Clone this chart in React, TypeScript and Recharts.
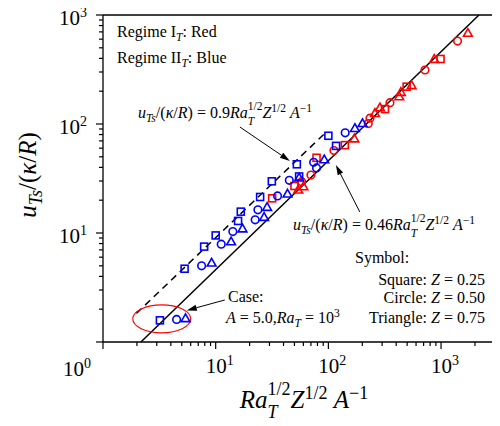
import React from 'react';
import {
  ScatterChart,
  Scatter,
  XAxis,
  YAxis,
  ReferenceLine,
  ReferenceDot,
} from 'recharts';

// Regime II_T (blue)
const blueSquares = [
  { x: 3.2, y: 1.58 }, { x: 5.3, y: 4.7 }, { x: 7.9, y: 7.5 }, { x: 10, y: 9.5 },
  { x: 15.8, y: 12.9 }, { x: 16.7, y: 15.7 }, { x: 24.8, y: 21.4 }, { x: 31.5, y: 29.8 },
  { x: 52.5, y: 42.7 }, { x: 55, y: 33 }, { x: 100, y: 78 }, { x: 117, y: 63 },
];
const blueCircles = [
  { x: 4.5, y: 1.61 }, { x: 7.5, y: 5.0 }, { x: 11.2, y: 7.9 }, { x: 14.2, y: 10.3 },
  { x: 22.4, y: 13.2 }, { x: 23.7, y: 16.3 }, { x: 35.4, y: 21.9 }, { x: 45, y: 30.4 },
  { x: 74, y: 44.5 }, { x: 78.5, y: 39.5 }, { x: 141, y: 83 },
];
const blueTriangles = [
  { x: 5.4, y: 1.64 }, { x: 9.2, y: 5.3 }, { x: 13.7, y: 8.3 }, { x: 17.3, y: 10.9 },
  { x: 26.9, y: 13.9 }, { x: 28.6, y: 17.2 }, { x: 43.4, y: 22.8 }, { x: 55, y: 32 },
  { x: 92, y: 47 }, { x: 172, y: 91 }, { x: 201, y: 101 },
];

// Regime I_T (red)
const redSquares = [
  { x: 31.7, y: 20.8 }, { x: 50, y: 27 }, { x: 78.5, y: 49 }, { x: 140, y: 64 },
  { x: 318, y: 137 }, { x: 495, y: 220 }, { x: 990, y: 395 },
];
const redCircles = [
  { x: 58, y: 29.6 }, { x: 70, y: 34 }, { x: 112, y: 57 }, { x: 226, y: 101 },
  { x: 234, y: 113 }, { x: 352, y: 157 }, { x: 720, y: 313 }, { x: 1400, y: 577 },
];
const redTriangles = [
  { x: 54, y: 24.8 }, { x: 60, y: 26.6 }, { x: 170, y: 73 }, { x: 259, y: 125 },
  { x: 287, y: 141 }, { x: 425, y: 178 }, { x: 440, y: 195 }, { x: 548, y: 225 },
  { x: 870, y: 392 }, { x: 1730, y: 680 },
];

// fit lines (end points)
const fitSolid = [{ x: 2.17, y: 1 }, { x: 2170, y: 1000 }];
const fitDashed = [{ x: 1.98, y: 1.83 }, { x: 96.4, y: 85 }];

// annotation arrows [from, to]
const arrowUpper = [{ x: 16.4, y: 93.8 }, { x: 45.5, y: 45.8 }];
const arrowLower = [{ x: 190, y: 15.6 }, { x: 116.6, y: 42.1 }];
const arrowCase = [{ x: 12.05, y: 2.43 }, { x: 5.54, y: 1.95 }];
const caseCenter = { x: 3.32, y: 1.63 };

const xTicks = [
  1, 2, 3, 4, 5, 6, 7, 8, 9, 10, 20, 30, 40, 50, 60, 70, 80, 90,
  100, 200, 300, 400, 500, 600, 700, 800, 900, 1000, 2000, 3000,
];
const yTicks = [
  1, 2, 3, 4, 5, 6, 7, 8, 9, 10, 20, 30, 40, 50, 60, 70, 80, 90,
  100, 200, 300, 400, 500, 600, 700, 800, 900, 1000,
];

const SERIF = '"Liberation Serif", "Times New Roman", serif';
const BLUE = '#0000ff';
const RED = '#ff0000';

const isDecade = (v: number) => Math.abs(Math.log10(v) - Math.round(Math.log10(v))) < 1e-9;

const Pow = ({ x, y, e, anchor }: any) => (
  <text x={x} y={y} textAnchor={anchor} fontFamily={SERIF} fontSize={21} fill="#000">
    10<tspan fontSize={14} dy={-8}>{e}</tspan>
  </text>
);

const XTick = (props: any) => {
  const { x, y, payload } = props;
  const v = payload.value;
  const major = isDecade(v);
  const e = Math.round(Math.log10(v));
  return (
    <g>
      <line x1={x} y1={y} x2={x} y2={y + (major ? 7 : 4)} stroke="#000" strokeWidth={1.2} />
      {major && e > 0 && <Pow x={x + 4} y={y + 31} e={e} anchor="middle" />}
      {major && e === 0 && <Pow x={x - 26} y={y + 34} e={e} anchor="middle" />}
    </g>
  );
};

const YTick = (props: any) => {
  const { x, y, payload } = props;
  const v = payload.value;
  const major = isDecade(v);
  const e = Math.round(Math.log10(v));
  return (
    <g>
      <line x1={x} y1={y} x2={x - (major ? 7 : 4)} y2={y} stroke="#000" strokeWidth={1.2} />
      {major && e > 0 && <Pow x={x - 16} y={y + 10} e={e} anchor="end" />}
    </g>
  );
};

const Square = (color: string) => (p: any) => (
  <rect x={p.cx - 3.5} y={p.cy - 3.5} width={7} height={7} fill="none" stroke={color} strokeWidth={1.6} />
);
const Circle = (color: string) => (p: any) => (
  <circle cx={p.cx} cy={p.cy} r={3.8} fill="none" stroke={color} strokeWidth={1.6} />
);
const Triangle = (color: string) => (p: any) => (
  <path
    d={`M${p.cx},${p.cy - 4.7} L${p.cx + 4.4},${p.cy + 3} L${p.cx - 4.4},${p.cy + 3} Z`}
    fill="none"
    stroke={color}
    strokeWidth={1.6}
  />
);

const Arrow = (p: any) => {
  const { x1, y1, x2, y2 } = p;
  const a = Math.atan2(y2 - y1, x2 - x1);
  const L = 10;
  const W = 3;
  const bx = x2 - L * Math.cos(a);
  const by = y2 - L * Math.sin(a);
  const s = Math.sin(a);
  const c = Math.cos(a);
  return (
    <g>
      <line x1={x1} y1={y1} x2={bx} y2={by} stroke="#000" strokeWidth={1} />
      <path d={`M${x2},${y2} L${bx - W * s},${by + W * c} L${bx + W * s},${by - W * c} Z`} fill="#000" />
    </g>
  );
};

const Ellipse = (p: any) => (
  <ellipse cx={p.cx} cy={p.cy} rx={29} ry={14} fill="none" stroke={RED} strokeWidth={1.1} />
);

const Sub = ({ children }: any) => (
  <span style={{ fontSize: '0.72em', position: 'relative', top: '0.32em' }}>{children}</span>
);
const Sup = ({ children }: any) => (
  <span style={{ fontSize: '0.72em', position: 'relative', top: '-0.5em' }}>{children}</span>
);
const SupSub = ({ sup, sub }: any) => (
  <span style={{ position: 'relative', fontSize: '0.72em' }}>
    <span style={{ position: 'relative', top: '-0.7em', fontStyle: 'normal' }}>{sup}</span>
    <span style={{ position: 'absolute', left: 0, top: '0.45em', fontStyle: 'italic' }}>{sub}</span>
  </span>
);

const Formula = ({ k }: { k: string }) => (
  <span>
    <i>u</i>
    <Sub><i>Ts</i></Sub>/(<i>κ</i>/<i>R</i>) = {k}
    <i>Ra</i>
    <SupSub sup="1/2" sub="T" />
    <i>Z</i>
    <Sup>1/2</Sup> <i>A</i>
    <Sup>−1</Sup>
  </span>
);

const txt = (left: number, top: number, extra: React.CSSProperties = {}): React.CSSProperties => ({
  position: 'absolute',
  left,
  top,
  fontFamily: SERIF,
  fontSize: 16,
  lineHeight: '16px',
  whiteSpace: 'nowrap',
  color: '#000',
  ...extra,
});

export default function App() {
  return (
    <div style={{ position: 'relative', width: 492, height: 418, marginTop: -8 }}>
      <ScatterChart width={492} height={418} margin={{ top: 15, right: 0, bottom: 0, left: 0 }}>
        <XAxis
          type="number"
          dataKey="x"
          scale="log"
          domain={[1, 3335]}
          allowDataOverflow
          ticks={xTicks}
          interval={0}
          tick={XTick}
          tickLine={false}
          tickSize={0}
          tickMargin={0}
          axisLine={{ stroke: '#000', strokeWidth: 1.3 }}
          height={76}
        />
        <YAxis
          type="number"
          dataKey="y"
          scale="log"
          domain={[1, 1000]}
          allowDataOverflow
          ticks={yTicks}
          interval={0}
          tick={YTick}
          tickLine={false}
          tickSize={0}
          tickMargin={0}
          axisLine={{ stroke: '#000', strokeWidth: 1.3 }}
          width={95}
        />
        <ReferenceLine y={1000} stroke="#000" strokeWidth={1.3} />
        <ReferenceLine segment={fitSolid} stroke="#000" strokeWidth={1.5} />
        <ReferenceLine segment={fitDashed} stroke="#000" strokeWidth={1.5} strokeDasharray="7 5" />
        <ReferenceLine segment={arrowUpper} shape={Arrow} />
        <ReferenceLine segment={arrowLower} shape={Arrow} />
        <ReferenceLine segment={arrowCase} shape={Arrow} />
        <ReferenceDot x={caseCenter.x} y={caseCenter.y} shape={Ellipse} />
        <Scatter data={redSquares} shape={Square(RED)} isAnimationActive={false} />
        <Scatter data={redCircles} shape={Circle(RED)} isAnimationActive={false} />
        <Scatter data={redTriangles} shape={Triangle(RED)} isAnimationActive={false} />
        <Scatter data={blueSquares} shape={Square(BLUE)} isAnimationActive={false} />
        <Scatter data={blueCircles} shape={Circle(BLUE)} isAnimationActive={false} />
        <Scatter data={blueTriangles} shape={Triangle(BLUE)} isAnimationActive={false} />
      </ScatterChart>

      <div style={txt(109, 24)}>
        Regime I<Sub><i>T</i></Sub>: Red
      </div>
      <div style={txt(109, 50)}>
        Regime II<Sub><i>T</i></Sub>: Blue
      </div>
      <div style={txt(130, 105)}>
        <Formula k="0.9" />
      </div>
      <div style={txt(285, 217)}>
        <Formula k="0.46" />
      </div>
      <div style={txt(347, 250)}>Symbol:</div>
      <div style={txt(477, 272, { transform: 'translateX(-100%)' })}>
        Square: <i>Z</i> = 0.25
      </div>
      <div style={txt(477, 290, { transform: 'translateX(-100%)' })}>
        Circle: <i>Z</i> = 0.50
      </div>
      <div style={txt(477, 310, { transform: 'translateX(-100%)' })}>
        Triangle: <i>Z</i> = 0.75
      </div>
      <div style={txt(220, 289)}>Case:</div>
      <div style={txt(218, 310)}>
        <i>A</i> = 5.0,<i>Ra</i>
        <Sub><i>T</i></Sub> = 10<Sup>3</Sup>
      </div>

      <div
        style={{
          position: 'absolute',
          left: 21,
          top: 175,
          transform: 'translate(-50%, -50%) rotate(-90deg)',
          fontFamily: SERIF,
          fontSize: 25,
          lineHeight: '25px',
          whiteSpace: 'nowrap',
        }}
      >
        <i>u</i>
        <Sub><i>Ts</i></Sub>/(<i>κ</i>/<i>R</i>)
      </div>
      <div
        style={{
          position: 'absolute',
          left: 296,
          top: 387,
          transform: 'translateX(-50%)',
          fontFamily: SERIF,
          fontSize: 25,
          lineHeight: '25px',
          whiteSpace: 'nowrap',
        }}
      >
        <i>Ra</i>
        <SupSub sup="1/2" sub="T" />
        <i>Z</i>
        <Sup>1/2</Sup> <i>A</i>
        <Sup>−1</Sup>
      </div>
    </div>
  );
}
